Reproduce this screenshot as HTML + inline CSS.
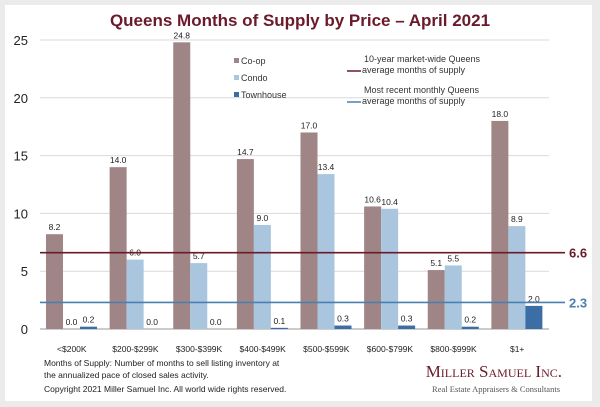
<!DOCTYPE html>
<html><head><meta charset="utf-8"><style>
html,body{margin:0;padding:0;background:#ebebeb;}
svg{display:block;font-family:"Liberation Sans",sans-serif;}
</style></head><body>
<svg id="chart" width="600" height="407" viewBox="0 0 600 407">
<rect x="5" y="5" width="587" height="396" fill="#fff"/>
<text x="300" y="26" text-anchor="middle" font-size="17" font-weight="bold" fill="#6b1a2a">Queens Months of Supply by Price – April 2021</text>
<g id="grid"></g><g id="bars"></g><g id="labels"></g>
<g font-size="9" fill="#333">
<rect x="234" y="58" width="5" height="5" fill="#a08587"/>
<text x="241" y="64">Co-op</text>
<rect x="234" y="75" width="5" height="5" fill="#a9c6de"/>
<text x="241" y="81">Condo</text>
<rect x="234" y="92" width="5" height="5" fill="#3a6ea5"/>
<text x="241" y="98">Townhouse</text>
<line x1="347" y1="71" x2="361" y2="71" stroke="#6b1a2a" stroke-width="1.5"/>
<text x="364" y="62">10-year market-wide Queens</text>
<text x="362" y="73">average months of supply</text>
<line x1="347" y1="102" x2="361" y2="102" stroke="#4a7fb0" stroke-width="1.5"/>
<text x="364" y="93">Most recent monthly Queens</text>
<text x="362" y="104">average months of supply</text>
</g>
<g font-size="8.5" fill="#222">
<text x="44" y="366">Months of Supply: Number of months to sell listing inventory at</text>
<text x="44" y="378">the annualized pace of closed sales activity.</text>
<text x="44" y="392">Copyright 2021 Miller Samuel Inc.  All world wide rights reserved.</text>
</g>
<text x="562" y="377" text-anchor="end" font-family="Liberation Serif,serif" font-size="17" fill="#6b1a2a" style="font-variant:small-caps">Miller Samuel Inc.</text>
<text x="560" y="392" text-anchor="end" font-family="Liberation Serif,serif" font-size="8.5" fill="#555">Real Estate Appraisers &amp; Consultants</text>
</svg>
<script>
const categories=["<$200K","$200-$299K","$300-$399K","$400-$499K","$500-$599K","$600-$799K","$800-$999K","$1+"];
const coop=[8.2,14.0,24.8,14.7,17.0,10.6,5.1,18.0];
const condo=[0.0,6.0,5.7,9.0,13.4,10.4,5.5,8.9];
const townhouse=[0.2,0.0,0.0,0.1,0.3,0.3,0.2,2.0];
const yTicks=[0,5,10,15,20,25];
const refLines=[6.6,2.3];
const NS="http://www.w3.org/2000/svg";
const X0=40,X1=549,Y0=329,Y25=40;
function y(v){return Y0-(v/25)*(Y0-Y25);}
const cw=(X1-X0)/categories.length;
function cx(i){return X0+i*cw;}
function mk(tag,attrs,parent){const e=document.createElementNS(NS,tag);for(const k in attrs)e.setAttribute(k,attrs[k]);parent.appendChild(e);return e;}
const grid=document.getElementById('grid'),bars=document.getElementById('bars'),labels=document.getElementById('labels');
yTicks.forEach(t=>{
 const l=mk('line',{x1:X0,x2:X1,y1:y(t),y2:y(t),stroke:t===0?'#999':'#d9d9d9','stroke-width':1},grid);
 
 
 const tx=mk('text',{x:28,y:y(t)+5,'text-anchor':'end','font-size':13,fill:'#222'},grid);
 tx.textContent=t;
 
 
});
const series=[[coop,'#a08587','coop'],[condo,'#a9c6de','condo'],[townhouse,'#3a6ea5','townhouse']];
const bw=17,off=6;
categories.forEach((c,i)=>{
 series.forEach((s,j)=>{
  const v=s[0][i],bx=cx(i)+off+j*bw;
  const r=mk('rect',{x:bx,y:y(v),width:bw,height:Y0-y(v),fill:s[1]},bars);
  
  
  const t=mk('text',{x:bx+bw/2,y:y(v)-4,'text-anchor':'middle','font-size':8.5,fill:'#222'},labels);
  t.textContent=v.toFixed(1);
  
  
 });
 const t=mk('text',{x:cx(i)+cw/2,y:352,'text-anchor':'middle','font-size':8.5,fill:'#222'},labels);
 t.textContent=c;
 
 
});
const refColors=['#6b1a2a','#4a7fb0'];
refLines.forEach((v,k)=>{
 const l=mk('line',{x1:X0,x2:565,y1:y(v),y2:y(v),stroke:refColors[k],'stroke-width':1.6},labels);
 
 
 const t=mk('text',{x:569,y:y(v)+5,'font-size':13,'font-weight':'bold',fill:refColors[k]},labels);
 t.textContent=v.toFixed(1);
 
 
});
</script>
</body></html>
